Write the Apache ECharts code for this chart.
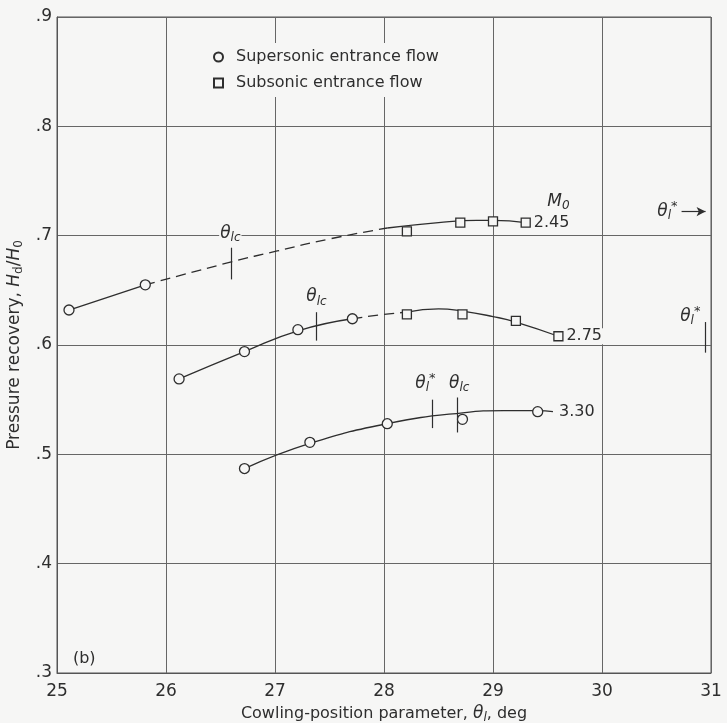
<!DOCTYPE html>
<html><head><meta charset="utf-8">
<script src="https://cdn.jsdelivr.net/npm/echarts@6/dist/echarts.min.js"></script>
<style>html,body{margin:0;padding:0;background:#f6f6f5;}#c{width:727px;height:723px;}</style>
</head><body><div id="c"></div>
<script>
// ---- axis ticks ----
const xMin = 25, xMax = 31, xStep = 1;
const yMin = 0.3, yMax = 0.9, yStep = 0.1;

// ---- measured points [theta_l (deg), Hd/H0] ----
const m245Super = [[25.11,0.632],[25.81,0.655]];
const m245Sub   = [[28.21,0.704],[28.70,0.712],[29.00,0.713],[29.30,0.712]];
const m275Super = [[26.12,0.569],[26.72,0.594],[27.21,0.614],[27.71,0.624]];
const m275Sub   = [[28.21,0.628],[28.72,0.628],[29.21,0.622],[29.60,0.608]];
const m330Super = [[26.72,0.487],[27.32,0.511],[28.03,0.528],[28.72,0.532],[29.41,0.539]];

// ---- faired curves ----
const c245Solid1 = [[25.11,0.632],[25.81,0.655]];
const c245Dash   = [[25.81,0.655],[26.60,0.676],[27.02,0.686],[27.50,0.697],[28.03,0.707]];
const c245Solid2 = [[28.03,0.707],[28.50,0.712],[28.85,0.714],[29.00,0.714],[29.30,0.712]];
const c275Solid1 = [[26.12,0.569],[26.72,0.594],[27.21,0.613],[27.71,0.624]];
const c275Dash   = [[27.71,0.624],[28.00,0.628],[28.21,0.630]];
const c275Solid2 = [[28.21,0.630],[28.50,0.633],[28.72,0.631],[29.00,0.626],[29.21,0.621],[29.60,0.608]];
const c330       = [[26.72,0.487],[27.32,0.510],[28.03,0.528],[28.72,0.538],[29.10,0.540],[29.41,0.540],[29.55,0.539]];

// ---- annotation marks: [x, yLow, yHigh] ----
const tickMarks = [[26.60,0.660,0.689],[27.38,0.604,0.630],[28.44,0.524,0.550],[28.67,0.520,0.552],[30.95,0.593,0.621]];
const arrowMark = [[30.73,0.722],[30.95,0.722]];

// ---- annotation texts ----
const mach = ['2.45','2.75','3.30'];
const machAnchors = [[29.30,0.712],[29.60,0.608],[29.55,0.539]];
const thetaLcLabels = [[26.59,0.702],[27.38,0.644],[28.69,0.565]];
const thetaStarLabels = [[28.38,0.565],[30.60,0.722],[30.81,0.626]];
const m0Label = [29.60,0.731];
const panelLabel = [25.25,0.313];

const ink = '#2e2e2e';
const bg = '#f6f6f5';
const ff = 'DejaVu Sans';

const rich = {
  th:  {fontSize:17, fontFamily:ff, fontStyle:'italic', color:ink},
  sub: {fontSize:12, fontFamily:ff, fontStyle:'italic', color:ink, padding:[9,0,0,0]},
  sup: {fontSize:13, fontFamily:ff, color:ink, padding:[0,0,9,0]},
  n:   {fontSize:16, fontFamily:ff, color:ink}
};
const thetaLc = '{th|θ}{sub|lc}';
const thetaStar = '{th|θ}{sub|l}{sup|*}';

function lineSeries(data, dashed) {
  return {type:'line', data:data, smooth:0.5, symbol:'none', silent:true, z:2,
    lineStyle:{color:ink, width:1.3, type: dashed ? [10,6] : 'solid'}};
}

const annot = [];
thetaLcLabels.forEach(p => annot.push({value:p, label:{formatter:thetaLc}}));
thetaStarLabels.forEach(p => annot.push({value:p, label:{formatter:thetaStar}}));
annot.push({value:m0Label, label:{formatter:'{th|M}{sub|0}'}});
annot.push({value:panelLabel, label:{formatter:'{n|(b)}'}});

const machLabels = mach.map((m,i) => ({value:machAnchors[i], label:{formatter:'{n|'+m+'}', position:'right', distance: i===2?4:6}}));

const option = {
  backgroundColor: bg,
  animation: false,
  textStyle: {fontFamily: ff, color: ink},
  grid: {left:57, right:16, top:17, bottom:50, show:true, borderColor:'#555', borderWidth:1,
         containLabel:false, outerBoundsMode:'none'},
  legend: {
    orient:'vertical', left:207, top:43, itemWidth:9, itemHeight:9, itemGap:10,
    backgroundColor:bg, padding:[6,8,6,6],
    textStyle:{fontSize:16, color:ink, fontFamily:ff, padding:[0,0,0,8]},
    data:[{name:'Supersonic entrance flow', icon:'circle'},{name:'Subsonic entrance flow', icon:'rect'}]
  },
  xAxis: {
    type:'value', min:xMin, max:xMax, interval:xStep,
    name:'Cowling-position parameter, {th|θ}{sub|l}, deg',
    nameLocation:'middle', nameGap:29,
    nameTextStyle:{fontSize:16, color:ink, rich:rich},
    axisLine:{show:true, lineStyle:{color:'#555'}}, axisTick:{show:false},
    axisLabel:{fontSize:17, color:ink, margin:10},
    splitLine:{show:true, lineStyle:{color:'#666', width:1}}
  },
  yAxis: {
    type:'value', min:yMin, max:yMax, interval:yStep,
    name:'Pressure recovery, {i|H}{s|d}/{i|H}{s|0}',
    nameLocation:'middle', nameGap:30, nameRotate:90,
    nameTextStyle:{fontSize:17, color:ink, rich:{
      i:{fontSize:17, fontStyle:'italic', fontFamily:ff, color:ink},
      s:{fontSize:12, fontFamily:ff, color:ink, padding:[8,0,0,0]}}},
    axisLine:{show:true, lineStyle:{color:'#555'}}, axisTick:{show:false},
    axisLabel:{fontSize:17, color:ink, margin:5, formatter: v => v.toFixed(1).replace('0.', '.')},
    splitLine:{show:true, lineStyle:{color:'#666', width:1}}
  },
  series: [
    lineSeries(c245Solid1,false), lineSeries(c245Dash,true), lineSeries(c245Solid2,false),
    lineSeries(c275Solid1,false), lineSeries(c275Dash,true), lineSeries(c275Solid2,false),
    Object.assign(lineSeries(c330,false), {
      markLine:{silent:true, symbol:'none', animation:false, label:{show:false},
        lineStyle:{color:ink, width:1.2, type:'solid'},
        data: tickMarks.map(t => [{coord:[t[0],t[1]]},{coord:[t[0],t[2]]}]).concat([
          [{coord:arrowMark[0], symbol:'none'},{coord:arrowMark[1], symbol:'arrow', symbolSize:[7,9]}]
        ])}
    }),
    {name:'Supersonic entrance flow', type:'scatter', symbol:'circle', symbolSize:10, z:5,
      itemStyle:{color:bg, borderColor:ink, borderWidth:1.3, opacity:1},
      data:[].concat(m245Super, m275Super, m330Super)},
    {name:'Subsonic entrance flow', type:'scatter', symbol:'rect', symbolSize:9, z:5,
      itemStyle:{color:bg, borderColor:ink, borderWidth:1.3, opacity:1},
      data:[].concat(m245Sub, m275Sub)},
    {type:'scatter', symbolSize:0, silent:true, z:6, data:annot, itemStyle:{opacity:1},
      label:{show:true, position:'inside', backgroundColor:bg, padding:[0,1], rich:rich, color:ink}},
    {type:'scatter', symbolSize:0, silent:true, z:6, data:machLabels, itemStyle:{opacity:1},
      label:{show:true, backgroundColor:bg, padding:[0,2], rich:rich, color:ink}}
  ]
};
echarts.init(document.getElementById('c')).setOption(option);
</script></body></html>
